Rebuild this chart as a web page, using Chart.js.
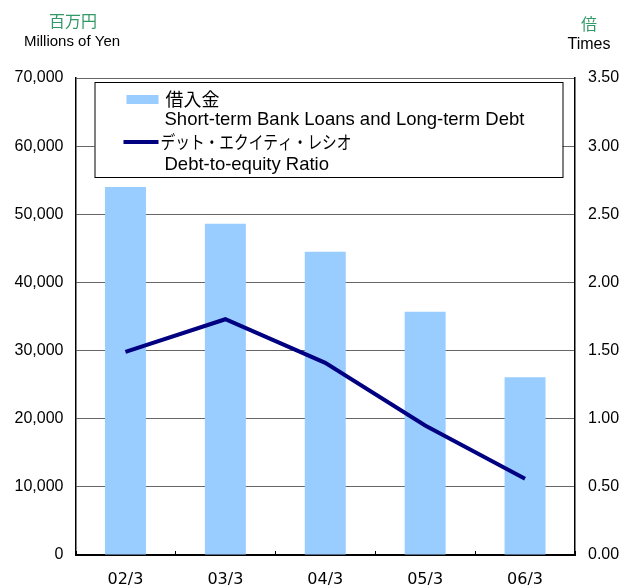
<!DOCTYPE html>
<html>
<head>
<meta charset="utf-8">
<script src="https://cdn.jsdelivr.net/npm/chart.js@4/dist/chart.umd.min.js"></script>
<style>
html,body{margin:0;padding:0;background:#fff;}
#wrap{position:relative;width:624px;height:588px;}
</style>
</head>
<body>
<div id="wrap"><canvas id="c" width="624" height="588"></canvas></div>
<script>
const categories = ["02/3", "03/3", "04/3", "05/3", "06/3"];
const loans = [54000, 48600, 44500, 35700, 26100];
const deRatio = [1.49, 1.73, 1.41, 0.95, 0.56];
const leftTicks = [0, 10000, 20000, 30000, 40000, 50000, 60000, 70000];
const rightTicks = [0, 0.5, 1.0, 1.5, 2.0, 2.5, 3.0, 3.5];
const legendLabels = ["借入金", "Short-term Bank Loans and Long-term Debt", "デット・エクイティ・レシオ", "Debt-to-equity Ratio"];
const axisTitles = {leftJa: "百万円", leftEn: "Millions of Yen", rightJa: "倍", rightEn: "Times"};

const BAR_COLOR = "#99ccff";
const LINE_COLOR = "#000080";
const GREEN = "#339966";
const LATIN = "'Liberation Sans', Arial, sans-serif";
const CJK = "'Noto Sans CJK JP', sans-serif";

const overlay = {
  id: "overlay",
  afterDraw(chart) {
    const ctx = chart.ctx;
    const ca = chart.chartArea;
    const xs = chart.scales.x;
    ctx.save();
    // x-axis boundary ticks (pointing up into the plot)
    ctx.strokeStyle = "#000";
    ctx.lineWidth = 1;
    for (let i = 0; i <= categories.length; i++) {
      const half = (xs.getPixelForValue(1) - xs.getPixelForValue(0)) / 2;
      const px = Math.round(xs.getPixelForValue(i) - half) + 0.5;
      ctx.beginPath();
      ctx.moveTo(px, ca.bottom);
      ctx.lineTo(px, ca.bottom - 4);
      ctx.stroke();
    }
    // legend box
    const lx = ca.left + 19, ly = ca.top + 4, lw = 468, lh = 95;
    ctx.fillStyle = "#fff";
    ctx.fillRect(lx, ly, lw, lh);
    ctx.strokeStyle = "#000";
    ctx.lineWidth = 1;
    ctx.strokeRect(lx + 0.5, ly + 0.5, lw, lh);
    ctx.textBaseline = "middle";
    ctx.textAlign = "left";
    // row 1
    ctx.fillStyle = BAR_COLOR;
    ctx.fillRect(lx + 32, ly + 13, 32, 9);
    ctx.fillStyle = "#000";
    ctx.font = "18px " + CJK;
    ctx.fillText(legendLabels[0], lx + 71, ly + 17);
    ctx.font = "18.5px " + LATIN;
    ctx.fillText(legendLabels[1], lx + 70, ly + 38, 371);
    // row 3
    ctx.strokeStyle = LINE_COLOR;
    ctx.lineWidth = 4;
    ctx.beginPath();
    ctx.moveTo(lx + 29, ly + 60);
    ctx.lineTo(lx + 64, ly + 60);
    ctx.stroke();
    ctx.fillStyle = "#000";
    ctx.font = "18px " + CJK;
    ctx.fillText(legendLabels[2], lx + 66, ly + 60, 191);
    ctx.font = "18.5px " + LATIN;
    ctx.fillText(legendLabels[3], lx + 70, ly + 83, 166);
    // axis titles
    ctx.textAlign = "center";
    ctx.fillStyle = GREEN;
    ctx.font = "16px " + CJK;
    ctx.fillText(axisTitles.leftJa, 73, 21);
    ctx.fillText(axisTitles.rightJa, 589, 24);
    ctx.fillStyle = "#000";
    ctx.font = "15px " + LATIN;
    ctx.fillText(axisTitles.leftEn, 72, 42);
    ctx.font = "16px " + LATIN;
    ctx.fillText(axisTitles.rightEn, 589, 45);
    ctx.restore();
  }
};

new Chart(document.getElementById("c"), {
  type: "bar",
  data: {
    labels: categories,
    datasets: [
      {
        type: "line",
        label: "Debt-to-equity Ratio",
        data: deRatio,
        yAxisID: "y1",
        borderColor: LINE_COLOR,
        backgroundColor: LINE_COLOR,
        borderWidth: 4,
        pointRadius: 0,
        tension: 0,
        order: 0
      },
      {
        type: "bar",
        label: "Short-term Bank Loans and Long-term Debt",
        data: loans,
        yAxisID: "y",
        backgroundColor: BAR_COLOR,
        barPercentage: 0.41,
        categoryPercentage: 1.0,
        order: 1
      }
    ]
  },
  plugins: [overlay],
  options: {
    responsive: false,
    animation: false,
    devicePixelRatio: 1,
    layout: {padding: {top: 78, left: 0, right: 0, bottom: 0}},
    plugins: {legend: {display: false}, tooltip: {enabled: false}},
    scales: {
      x: {
        offset: true,
        grid: {display: false, drawTicks: false},
        border: {display: true, color: "#000", width: 2},
        ticks: {color: "#000", font: {family: "'DejaVu Sans', sans-serif", size: 16}, padding: 15},
        afterFit(s) { s.height = 33; }
      },
      y: {
        position: "left",
        min: 0, max: 70000,
        afterBuildTicks(s) { s.ticks = leftTicks.map(v => ({value: v})); },
        grid: {color: "#666", lineWidth: 1, drawTicks: false},
        border: {display: true, color: "#000", width: 1.5},
        ticks: {
          color: "#000", padding: 12,
          font: {family: LATIN, size: 16},
          callback: v => v.toLocaleString("en-US")
        },
        afterFit(s) { s.width = 75.5; }
      },
      y1: {
        position: "right",
        min: 0, max: 3.5,
        afterBuildTicks(s) { s.ticks = rightTicks.map(v => ({value: v})); },
        grid: {drawOnChartArea: false, drawTicks: false},
        border: {display: true, color: "#000", width: 1.5},
        ticks: {
          color: "#000", padding: 13,
          font: {family: LATIN, size: 16},
          callback: v => Number(v).toFixed(2)
        },
        afterFit(s) { s.width = 49; }
      }
    }
  }
});
</script>
</body>
</html>
